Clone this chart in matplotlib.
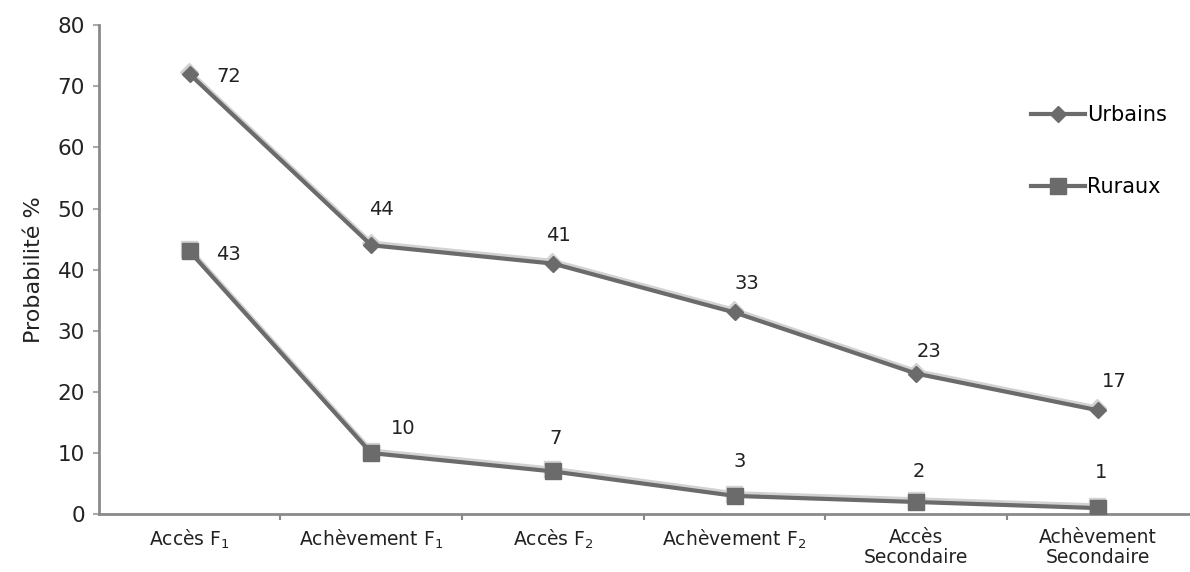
import matplotlib.pyplot as plt
from matplotlib import transforms

# Probabilités d'accès et d'achèvement par cycle (en %)
etapes = ['Accès F$_1$', 'Achèvement F$_1$', 'Accès F$_2$',
          'Achèvement F$_2$', 'Accès\nSecondaire', 'Achèvement\nSecondaire']
urbains = [72, 44, 41, 33, 23, 17]
ruraux = [43, 10, 7, 3, 2, 1]

plt.rcParams['font.family'] = ['DejaVu Sans']

fig = plt.figure(figsize=(11.9, 5.72), dpi=100)
ax = fig.add_axes([0.083, 0.101, 0.916, 0.855])

x = list(range(len(etapes)))
ligne = '#6b6b6b'
clair = '#d2d2d2'

# reflet clair légèrement décalé vers le haut, sous chaque courbe
reflet = transforms.offset_copy(ax.transData, fig=fig, x=-0.5, y=2, units='dots')
ax.plot(x, urbains, color=clair, lw=4, marker='D', ms=9, mfc=clair, mec=clair,
        transform=reflet, zorder=2)
ax.plot(x, ruraux, color=clair, lw=4, marker='s', ms=12, mfc=clair, mec=clair,
        transform=reflet, zorder=2)

ax.plot(x, urbains, color=ligne, lw=3, marker='D', ms=8,
        mfc=ligne, mec=ligne, label='Urbains', zorder=3)
ax.plot(x, ruraux, color=ligne, lw=3, marker='s', ms=11,
        mfc=ligne, mec=ligne, label='Ruraux', zorder=3)

# étiquettes de valeur : à droite pour le premier point, au-dessus sinon
dec_u = [(28, -2), (7, 26), (4, 20), (9, 21), (9, 16), (12, 21)]
dec_r = [(28, -2), (23, 18), (2, 24), (4, 25), (2, 22), (2, 26)]
for serie, decs in ((urbains, dec_u), (ruraux, dec_r)):
    for xi, v, d in zip(x, serie, decs):
        ax.annotate(str(v), (xi, v), xytext=d, textcoords='offset points',
                    ha='center', va='center', fontsize=14, color='#222222')

ax.set_xlim(-0.5, 5.5)
ax.set_ylim(0, 80)
ax.set_yticks(range(0, 81, 10))
ax.set_xticks([i + 0.5 for i in x[:-1]])
ax.set_xticks(x, minor=True)
ax.set_xticklabels([])
ax.set_xticklabels(etapes, minor=True, fontsize=13.5, color='#222222',
                   linespacing=1.05)
ax.tick_params(axis='x', which='minor', length=0, pad=10)
ax.tick_params(axis='x', which='major', length=4, width=1.5, color='#888888')
ax.tick_params(axis='y', length=4, width=1.5, color='#aaaaaa',
               labelsize=15.5, labelcolor='#222222', pad=6)

for s in ('top', 'right'):
    ax.spines[s].set_visible(False)
for s in ('left', 'bottom'):
    ax.spines[s].set_color('#8a8a8a')
    ax.spines[s].set_linewidth(2)

ax.set_ylabel('Probabilité %', fontsize=16, color='#222222', labelpad=10)

ax.legend(loc='upper left', bbox_to_anchor=(0.838, 0.875), frameon=False,
          fontsize=15, labelspacing=2.5, handlelength=2.6,
          handletextpad=0.1)

fig.savefig('out.png', dpi=100)
